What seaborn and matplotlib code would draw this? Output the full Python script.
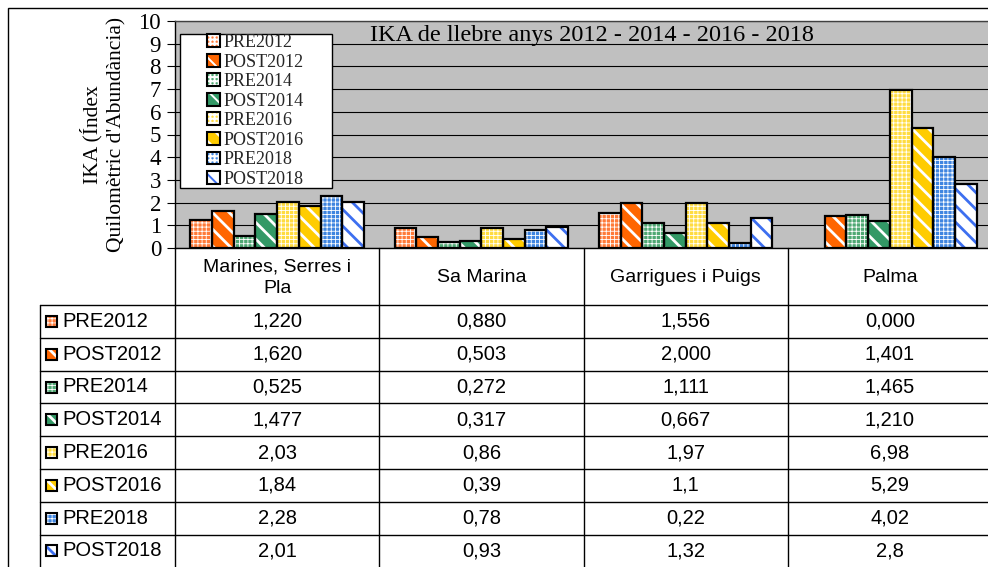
import pandas as pd
import seaborn as sns
import matplotlib.pyplot as plt
from matplotlib.patches import Rectangle, Patch
from matplotlib.lines import Line2D
from matplotlib.transforms import blended_transform_factory

# -----------------------------------------
# data
# -----------------------------------------
categories = ["Marines, Serres i\nPla", "Sa Marina", "Garrigues i Puigs", "Palma"]
series = ["PRE2012", "POST2012", "PRE2014", "POST2014",
          "PRE2016", "POST2016", "PRE2018", "POST2018"]

pre2012 = [1.220, 0.880, 1.556, 0.000]
post2012 = [1.620, 0.503, 2.000, 1.401]
pre2014 = [0.525, 0.272, 1.111, 1.465]
post2014 = [1.477, 0.317, 0.667, 1.210]
pre2016 = [2.03, 0.86, 1.97, 6.98]
post2016 = [1.84, 0.39, 1.1, 5.29]
pre2018 = [2.28, 0.78, 0.22, 4.02]
post2018 = [2.01, 0.93, 1.32, 2.8]
values = [pre2012, post2012, pre2014, post2014, pre2016, post2016, pre2018, post2018]

# number format used in the data table (None = Excel "general")
decimals = [3, 3, 3, 3, None, None, None, None]

title = "IKA de llebre anys 2012 - 2014 - 2016 - 2018"
ylabel = "IKA (Índex\nQuilomètric d'Abundància)"

# -----------------------------------------
# styles
# -----------------------------------------
face_colors = ["#FF7A38", "#FF6600", "#4FA873", "#339966",
               "#FFDC40", "#FFCC00", "#3F85E0", "#FFFFFF"]
hatch_colors = ["white", "white", "white", "white",
                "white", "white", "white", "#3D6FF0"]
hatches = ["++++", "\\\\", "++++", "\\\\", "++++", "\\\\", "++++", "\\\\"]
hatch_lw = [0.6, 2.0, 0.6, 2.0, 0.6, 2.0, 0.6, 2.0]

SERIF = ["Liberation Serif", "DejaVu Serif"]
SANS = ["Liberation Sans", "DejaVu Sans"]

W, H = 988, 567
sns.set_theme(style="white")
plt.rcParams["font.family"] = SERIF
plt.rcParams["hatch.linewidth"] = 1.4


def fx(px):
    return px / W


def fy(py):
    return 1 - py / H


def set_hlw(p, lw):
    if hasattr(p, "set_hatch_linewidth"):
        p.set_hatch_linewidth(lw)


fig = plt.figure(figsize=(W / 100, H / 100), dpi=100)
fig.patch.set_facecolor("white")

# plot area in pixels
ax_l, ax_r, ax_t, ax_b = 175, 992, 21, 248
ax = fig.add_axes([fx(ax_l), fy(ax_b), (ax_r - ax_l) / W, (ax_b - ax_t) / H])

long = pd.DataFrame({
    "zona": categories * len(series),
    "serie": [s for s in series for _ in categories],
    "ika": [v for vals in values for v in vals],
})

sns.barplot(data=long, x="zona", y="ika", hue="serie", order=categories,
            hue_order=series, palette=dict(zip(series, face_colors)),
            saturation=1, width=0.85, errorbar=None, legend=False, ax=ax)

for cont, hc, ht, hl in zip(ax.containers, hatch_colors, hatches, hatch_lw):
    for bar in cont:
        if bar.get_height() == 0:
            bar.set_visible(False)
            continue
        bar.set_hatch(ht)
        bar.set_edgecolor(hc)
        bar.set_linewidth(0)
        set_hlw(bar, hl)
        ax.add_patch(Rectangle(bar.get_xy(), bar.get_width(), bar.get_height(),
                               fill=False, edgecolor="black", linewidth=1.6,
                               zorder=bar.get_zorder() + 0.1))

ax.set_facecolor("#C0C0C0")
ax.set_xlim(-0.5, 3.5)
ax.set_ylim(0, 10)
ax.set_yticks(range(0, 11))
ax.set_axisbelow(True)
ax.yaxis.grid(True, color="black", linewidth=0.8)
ax.tick_params(axis="y", left=True, direction="out", length=6, width=0.8,
               labelsize=16.5, pad=4, colors="black")
ax.tick_params(axis="x", bottom=False, labelbottom=False)
ax.set_xlabel("")
ax.set_ylabel(ylabel, fontsize=15.5, linespacing=1.3, labelpad=9, color="black")
for sp in ax.spines.values():
    sp.set_color("black")
    sp.set_linewidth(1)
ax.spines["top"].set_color("#404040")

ax.text(0.51, fy(41), title, transform=blended_transform_factory(ax.transAxes, fig.transFigure),
        ha="center", va="baseline", fontsize=17.5, color="black")

# legend
handles = []
for fc, hc, ht, hl in zip(face_colors, hatch_colors, hatches, hatch_lw):
    p = Patch(facecolor=fc, edgecolor=hc, hatch=ht, linewidth=0)
    set_hlw(p, hl)
    handles.append((p, Patch(facecolor="none", edgecolor="black", linewidth=1.5)))
ax.add_patch(Rectangle((fx(180), fy(188)), fx(332) - fx(180), fy(34) - fy(188),
                       transform=fig.transFigure, facecolor="white",
                       edgecolor="black", linewidth=1, zorder=4, clip_on=False))
leg = ax.legend(handles, series, loc="upper left",
                bbox_to_anchor=(fx(207), fy(34)), bbox_transform=fig.transFigure,
                frameon=False, fontsize=13, handlelength=0.7, handleheight=0.7,
                handletextpad=0.2, labelspacing=0.14, borderpad=0, borderaxespad=0)
leg.set_zorder(5)

# -----------------------------------------
# data table below the plot
# -----------------------------------------
tr_x = blended_transform_factory(ax.transData, fig.transFigure)
tr_f = fig.transFigure


def hline(x0, x1, py, trans):
    fig.add_artist(Line2D([x0, x1], [fy(py), fy(py)], transform=trans,
                          color="black", linewidth=1))


def vline(x, py0, py1, trans):
    fig.add_artist(Line2D([x, x], [fy(py0), fy(py1)], transform=trans,
                          color="black", linewidth=1))


tab_left = 40
row0 = 305
row_h = 32.8
rows_y = [row0 + i * row_h for i in range(len(series))]

for i in range(len(categories) + 1):
    vline(i - 0.5, ax_b, H + 2, tr_x)
vline(fx(tab_left), row0, H + 2, tr_f)
for py in rows_y:
    hline(fx(tab_left), 1.0, py, tr_f)

header_cy = (ax_b + row0) / 2 + 1
for i, cat in enumerate(categories):
    ax.text(i, fy(header_cy), cat, transform=tr_x, ha="center", va="center",
            fontsize=14, family=SANS, linespacing=1.35, color="black")


def fmt(v, d):
    s = f"{v:.{d}f}" if d is not None else f"{v:g}"
    return s.replace(".", ",")


for r, (name, vals, d, fc, hc, ht, hl) in enumerate(zip(series, values, decimals, face_colors,
                                                         hatch_colors, hatches, hatch_lw)):
    cy = rows_y[r] + row_h / 2
    mk = Rectangle((fx(46), fy(cy + 5.5)), fx(11), 11 / H,
                   transform=tr_f, facecolor=fc, edgecolor=hc, hatch=ht, linewidth=0)
    set_hlw(mk, hl)
    fig.add_artist(mk)
    fig.add_artist(Rectangle((fx(46), fy(cy + 5.5)), fx(11), 11 / H, transform=tr_f,
                             fill=False, edgecolor="black", linewidth=1.5))
    fig.text(fx(62), fy(cy), name, ha="left", va="center", fontsize=14.5,
             family=SANS, color="black")
    for i, v in enumerate(vals):
        ax.text(i, fy(cy), fmt(v, d), transform=tr_x, ha="center", va="center",
                fontsize=14.5, family=SANS, color="black")

# outer chart border
fig.add_artist(Rectangle((fx(8), fy(H + 5)), fx(W + 10) - fx(8), fy(8) - fy(H + 5),
                         transform=tr_f, fill=False, edgecolor="black", linewidth=1))

fig.savefig("out.png", dpi=100)
